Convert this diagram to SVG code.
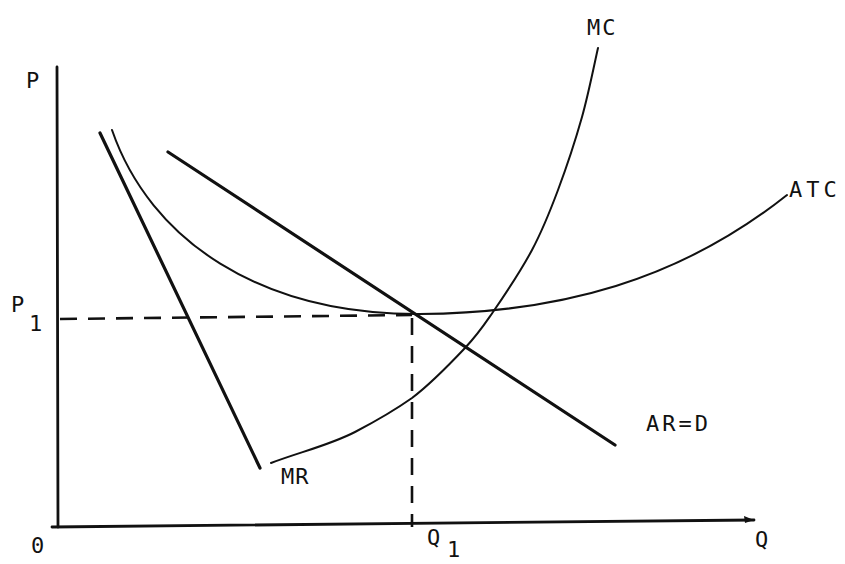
<svg xmlns="http://www.w3.org/2000/svg" width="845" height="564" viewBox="0 0 845 564">
<style>
.lbl{font-family:"DejaVu Sans Mono","Liberation Mono",monospace;font-size:22px;fill:#111}
.axis{stroke:#111;stroke-width:2.8;fill:none;stroke-linecap:round}
.thick{stroke:#111;stroke-width:3.2;fill:none;stroke-linecap:round}
.curve{stroke:#111;stroke-width:2;fill:none;stroke-linecap:round}
.dash{stroke:#111;stroke-width:2.6;fill:none;stroke-dasharray:17 11}
</style>
<rect width="845" height="564" fill="#fff"/>
<g id="axes">
<path class="axis" d="M57,67 L58,527"/>
<path class="axis" d="M52,527 L754,520"/>
<path d="M754,520 L744,516 L745,523 Z" fill="#111"/>
<text class="lbl" x="26" y="88">P</text>
<text class="lbl" x="31" y="553">0</text>
<text class="lbl" x="755" y="547">Q</text>
</g>
<g id="connectors">
<path class="dash" d="M60,319 L412,315"/>
<path class="dash" d="M412,318 L412,527"/>
</g>
<g id="p1">
<text class="lbl" x="11" y="312">P</text>
<text class="lbl" x="29" y="331">1</text>
</g>
<g id="q1">
<text class="lbl" x="427" y="545">Q</text>
<text class="lbl" x="447" y="557">1</text>
</g>
<g id="mr">
<path class="thick" d="M100,133 L260,468"/>
<text class="lbl" x="281" y="484" letter-spacing="1">MR</text>
</g>
<g id="ard">
<path class="thick" d="M168,152 L615,445"/>
<text class="lbl" x="646" y="431" letter-spacing="3">AR=D</text>
</g>
<g id="atc">
<path class="curve" d="M112,130 C150,240 260,315 420,314 C560,313 680,280 787,195"/>
<text class="lbl" x="789" y="197" letter-spacing="4">ATC</text>
</g>
<g id="mc">
<path class="curve" d="M271,463 C300,452 330,445 355,432 C378,420 395,410 412,398 C431.2,383.5 451.5,362.3 465,348 C478.5,333.7 481.8,328.3 493,312 C504.2,295.7 521.2,270.3 532,250 C542.8,229.7 549.7,212.2 558,190 C566.3,167.8 575.3,140.7 582,117 C588.7,93.3 595.3,59.5 598,48"/>
<text class="lbl" x="587" y="35" letter-spacing="2">MC</text>
</g>
</svg>
